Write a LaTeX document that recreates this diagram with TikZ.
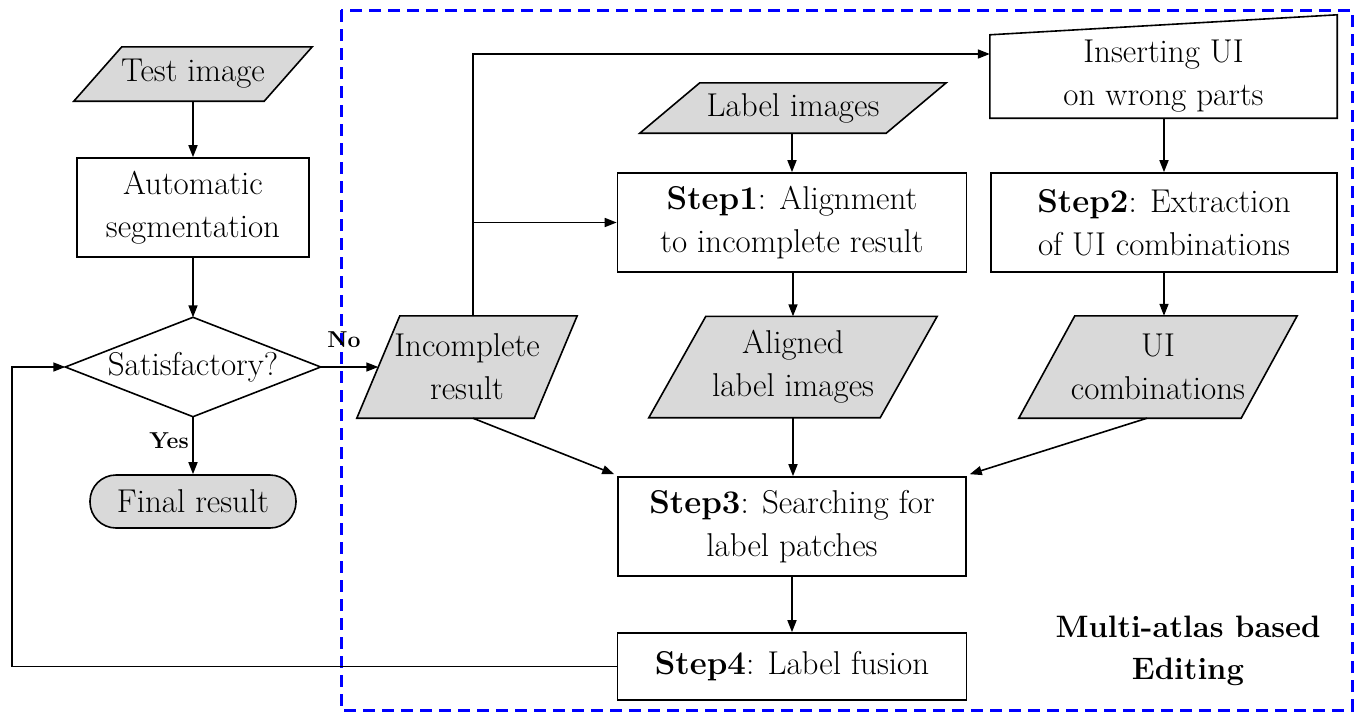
\documentclass[tikz,border=0pt]{standalone}
\usepackage{fontspec}
\usetikzlibrary{arrows.meta,calc,backgrounds}
\definecolor{iogray}{HTML}{D9D9D9}
\begin{document}
\begin{tikzpicture}[x=1pt,y=-1pt,
  txt/.style={font=\fontsize{33}{43}\selectfont, align=center, inner sep=0pt},
  box/.style={txt, draw, line width=1.6pt, fill=white},
  holder/.style={txt, draw=none},
  shapeline/.style={draw, line width=1.6pt, line join=miter},
  arr/.style={line width=1.6pt, -{Triangle[length=12pt,width=9pt]}},
  lbl/.style={font=\fontsize{23}{27}\selectfont\bfseries, inner sep=0pt}
]
\useasboundingbox (0,0) rectangle (1358,713);

% region
\draw[blue, line width=3pt, dash pattern=on 12pt off 7pt] (341,10) rectangle (1352,710);

% left column
\node[holder, minimum width=238pt, minimum height=54pt] (test) at (193,74) {Test image};
\node[box, minimum width=232pt, minimum height=99pt] (auto) at (193,207.5) {Automatic\\segmentation};
\node[holder, minimum width=255pt, minimum height=99pt] (dia) at (193,367) {Satisfactory?};
\node[box, fill=iogray, rounded corners=26pt, minimum width=206pt, minimum height=53pt] (final) at (193,501.5) {Final result};

% right part
\node[holder, minimum width=220pt, minimum height=102pt] (inc) at (467,367) {Incomplete\\result};
\node[holder, minimum width=306pt, minimum height=50pt] (lab) at (793,108) {Label images};
\node[box, minimum width=349pt, minimum height=99pt] (s1) at (792,222.5) {\textbf{Step1}: Alignment\\to incomplete result};
\node[holder, minimum width=347pt, minimum height=103pt] (ins) at (1163.5,66.5) {};
\node[txt] (instext) at (1163.5,76) {Inserting UI\\on wrong parts};
\node[box, minimum width=346pt, minimum height=99pt] (s2) at (1164,222.5) {\textbf{Step2}: Extraction\\of UI combinations};
\node[holder, minimum width=288pt, minimum height=101pt] (ali) at (793,367) {Aligned\\label images};
\node[holder, minimum width=278pt, minimum height=102pt] (uic) at (1158,367) {UI\\combinations};
\node[box, minimum width=348pt, minimum height=99pt] (s3) at (792,526.5) {\textbf{Step3}: Searching for\\label patches};
\node[box, minimum width=349pt, minimum height=67pt] (s4) at (792,666.5) {\textbf{Step4}: Label fusion};
\node[txt, font=\fontsize{31}{42}\selectfont\bfseries] (region) at (1188,651) {Multi-atlas based\\Editing};

% shapes behind text
\begin{pgfonlayer}{background}
  \draw[shapeline, fill=iogray] ($(test.north west)+(48,0)$) -- (test.north east) -- ($(test.south east)-(48,0)$) -- (test.south west) -- cycle;
  \draw[shapeline, fill=white] (dia.north) -- (dia.east) -- (dia.south) -- (dia.west) -- cycle;
  \draw[shapeline, fill=iogray] ($(inc.north west)+(43,0)$) -- (inc.north east) -- ($(inc.south east)-(43,0)$) -- (inc.south west) -- cycle;
  \draw[shapeline, fill=iogray] ($(lab.north west)+(60,0)$) -- (lab.north east) -- ($(lab.south east)-(60,0)$) -- (lab.south west) -- cycle;
  \draw[shapeline, fill=white] ($(ins.north west)+(0,20)$) -- (ins.north east) -- (ins.south east) -- (ins.south west) -- cycle;
  \draw[shapeline, fill=iogray] ($(ali.north west)+(57,0)$) -- (ali.north east) -- ($(ali.south east)-(57,0)$) -- (ali.south west) -- cycle;
  \draw[shapeline, fill=iogray] ($(uic.north west)+(56,0)$) -- (uic.north east) -- ($(uic.south east)-(56,0)$) -- (uic.south west) -- cycle;
\end{pgfonlayer}

% connectors
\draw[arr] (test.south) -- (auto.north);
\draw[arr] (auto.south) -- (dia.north);
\draw[arr] (dia.south) -- (final.north);
\node[lbl] (yes) at (169,441) {Yes};
\draw[arr] (dia.east) -- ($(inc.west)+(21.5,0)$);
\node[lbl] (no) at (344,340) {No};

\coordinate (vx) at ($(inc.north)+(6,0)$);
\draw[arr] (vx) |- ($(ins.west)+(0,-12.5)$);
\draw[arr] (vx |- s1.west) -- (s1.west);
\draw[arr] ($(inc.south)+(6,0)$) -- ($(s3.north west)+(-3,-2)$);

\draw[arr] (lab.south -| s1.north) -- (s1.north);
\draw[arr] (s1.south -| ali.north) -- (ali.north);
\draw[arr] (ali.south) -- (ali.south |- s3.north);
\draw[arr] (ins.south -| s2.north) -- (s2.north);
\draw[arr] (s2.south) -- (s2.south |- uic.north);
\draw[arr] ($(uic.south)+(-11,0)$) -- ($(s3.north east)+(3,-2)$);
\draw[arr] (s3.south) -- (s4.north);

\draw[arr] (s4.west) -- ++(-605,0) |- (dia.west);
\end{tikzpicture}
\end{document}
